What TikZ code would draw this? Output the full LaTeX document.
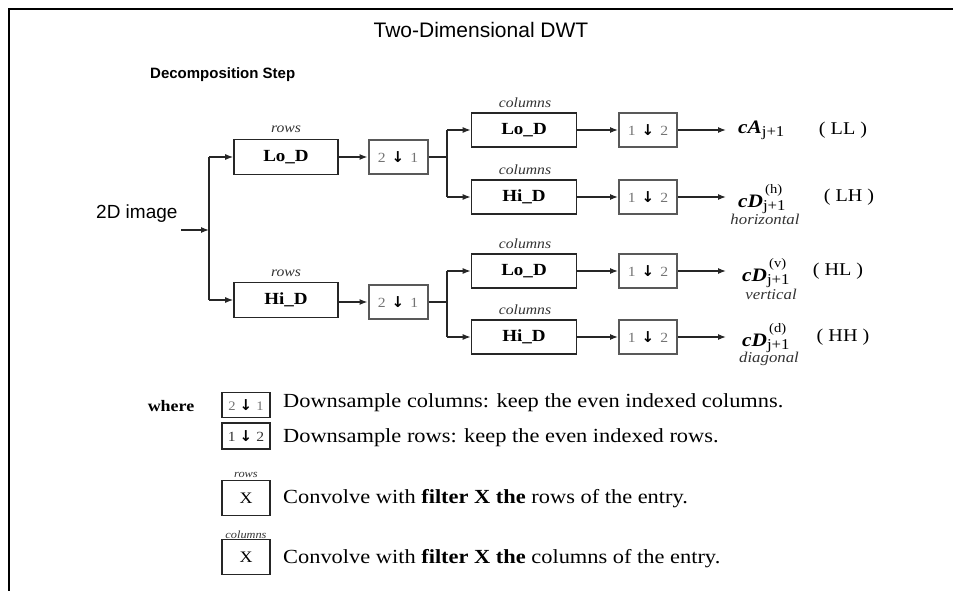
\documentclass[tikz,border=0pt]{standalone}
\usepackage{fontspec}
\setmainfont[FakeStretch=1.12]{Liberation Serif}
\setsansfont{Liberation Sans}
\newfontfamily\dejavu{DejaVu Sans}
\usetikzlibrary{arrows.meta}
\newcommand{\fs}[1]{\fontsize{#1}{#1}\selectfont}
\newcommand{\dn}{{\dejavu\bfseries\color{black}\fs{15}↓}}
\newcommand{\dsl}[2]{#1\hspace{6pt}\dn\hspace{6pt}#2}
\begin{document}
\begin{tikzpicture}[x=1pt,y=-1pt,
  filt/.style={draw=black!85, line width=1.6pt, minimum width=104pt, minimum height=35pt, inner sep=0pt, font=\bfseries\fs{17}},
  dsbox/.style={draw=black!65, line width=2pt, minimum width=59pt, minimum height=34pt, inner sep=0pt, text=black!55, font=\fs{14}},
  lgbox/.style={draw=black!85, line width=1.5pt, minimum width=48pt, inner sep=0pt, font=\fs{16}},
  arr/.style={-{Latex[length=8pt,width=6pt]}, line width=1.3pt, draw=black!85},
  ln/.style={line width=1.3pt, draw=black!85},
  lbl/.style={font=\itshape\fs{14}, text=black!80, inner sep=0pt},
  outn/.style={anchor=west, inner sep=0pt, font=\fs{19}},
  band/.style={inner sep=0pt, font=\fs{18}},
  lgtxt/.style={anchor=west, inner sep=0pt, font=\fs{20}}]
\useasboundingbox (0,0) rectangle (953,591);
% frame
\draw[line width=2.5pt] (953,9) -- (9,9) -- (9,591);
% titles
\node[font=\sffamily\fs{21}, inner sep=0pt] (title) at (481,30) {Two-Dimensional DWT};
\node[font=\sffamily\bfseries\fs{15}, anchor=west, inner sep=0pt] (dstep) at (150,75) {Decomposition Step};
% input
\node[font=\sffamily\fs{19}, anchor=west, inner sep=0pt] (img) at (96,214) {2D image};
\coordinate (in) at (181,230);
\coordinate (j0) at (209,230);
\coordinate (j0t) at (209,157);
\coordinate (j0b) at (209,300);
% row filters
\node[filt] (loR) at (286,157) {Lo\_D};
\node[filt] (hiR) at (286,300) {Hi\_D};
\node[lbl] (rowsT) at (286,129) {rows};
\node[lbl] (rowsB) at (286,273) {rows};
\draw[arr] (in) -- (j0);
\draw[ln] (j0t) -- (j0b);
\draw[arr] (j0t) -- (loR.west);
\draw[arr] (j0b) -- (hiR.west);
% row downsample
\node[dsbox] (dsR1) at (398,157) {\dsl{2}{1}};
\node[dsbox] (dsR2) at (398,302) {\dsl{2}{1}};
\draw[arr] (loR.east |- dsR1) -- (dsR1.west);
\draw[arr] (hiR.east |- dsR2) -- (dsR2.west);
% splits
\coordinate (j1) at (447,157);
\coordinate (j1t) at (447,130);
\coordinate (j1b) at (447,197);
\coordinate (j2) at (447,302);
\coordinate (j2t) at (447,271);
\coordinate (j2b) at (447,337);
\draw[ln] (dsR1.east) -- (j1);
\draw[ln] (dsR2.east) -- (j2);
\draw[ln] (j1t) -- (j1b);
\draw[ln] (j2t) -- (j2b);
% column filters
\node[filt, minimum width=105pt, minimum height=34pt] (c1) at (524,130) {Lo\_D};
\node[filt, minimum width=105pt, minimum height=34pt] (c2) at (524,197) {Hi\_D};
\node[filt, minimum width=105pt, minimum height=34pt] (c3) at (524,271) {Lo\_D};
\node[filt, minimum width=105pt, minimum height=34pt] (c4) at (524,337) {Hi\_D};
\node[lbl] (k1) at (525,103) {columns};
\node[lbl] (k2) at (525,170) {columns};
\node[lbl] (k3) at (525,244) {columns};
\node[lbl] (k4) at (525,310) {columns};
\draw[arr] (j1t) -- (c1.west);
\draw[arr] (j1b) -- (c2.west);
\draw[arr] (j2t) -- (c3.west);
\draw[arr] (j2b) -- (c4.west);
% column downsample
\node[dsbox, minimum width=58pt] (d1) at (648,130) {\dsl{1}{2}};
\node[dsbox, minimum width=58pt] (d2) at (648,197) {\dsl{1}{2}};
\node[dsbox, minimum width=58pt] (d3) at (648,271) {\dsl{1}{2}};
\node[dsbox, minimum width=58pt] (d4) at (648,337) {\dsl{1}{2}};
\draw[arr] (c1.east) -- (d1.west);
\draw[arr] (c2.east) -- (d2.west);
\draw[arr] (c3.east) -- (d3.west);
\draw[arr] (c4.east) -- (d4.west);
% outputs
\coordinate (e1) at (726,130);
\coordinate (e2) at (726,197);
\coordinate (e3) at (726,271);
\coordinate (e4) at (726,337);
\draw[arr] (d1.east) -- (e1);
\draw[arr] (d2.east) -- (e2);
\draw[arr] (d3.east) -- (e3);
\draw[arr] (d4.east) -- (e4);
\node[outn] (o1) at (738,130) {{\bfseries\itshape cA}\raisebox{-0.35ex}{\fs{15}j+1}};
\node[outn] (o2) at (738,199) {{\bfseries\itshape cD}\rlap{\raisebox{1.6ex}{\fs{13}\,(h)}}\raisebox{-0.35ex}{\fs{15}j+1}};
\node[outn] (o3) at (742,273) {{\bfseries\itshape cD}\rlap{\raisebox{1.6ex}{\fs{13}\,(v)}}\raisebox{-0.35ex}{\fs{15}j+1}};
\node[outn] (o4) at (742,338) {{\bfseries\itshape cD}\rlap{\raisebox{1.6ex}{\fs{13}\,(d)}}\raisebox{-0.35ex}{\fs{15}j+1}};
\node[lbl, font=\itshape\fs{15}] (h2) at (765,219) {horizontal};
\node[lbl, font=\itshape\fs{15}] (h3) at (771,294) {vertical};
\node[lbl, font=\itshape\fs{15}] (h4) at (769,359) {diagonal};
\node[band] (b1) at (843,130) {( LL )};
\node[band] (b2) at (849,197) {( LH )};
\node[band] (b3) at (838,271) {( HL )};
\node[band] (b4) at (843,337) {( HH )};
% legend
\node[font=\bfseries\fs{16}, inner sep=0pt] (where) at (171,406) {where};
\node[dsbox, draw=black!85, line width=1.5pt, minimum width=48pt, minimum height=25pt, font=\fs{13}] (L1) at (246,405) {2\hspace{4pt}\dn\hspace{4pt}1};
\node[dsbox, draw=black!85, line width=1.5pt, minimum width=48pt, minimum height=26pt, text=black!80, font=\fs{14}] (L2) at (246,436) {1\hspace{4pt}\dn\hspace{4pt}2};
\node[lgbox, minimum height=35pt] (L3) at (246,498) {X};
\node[lgbox, minimum height=35pt] (L4) at (246,557) {X};
\node[lbl, font=\itshape\fs{11}] (L3c) at (246,475) {rows};
\node[lbl, font=\itshape\fs{11}] (L4c) at (246,535) {columns};
\node[lgtxt] (T1) at (283,403) {Downsample columns: keep the even indexed columns.};
\node[lgtxt] (T2) at (283,438) {Downsample rows: keep the even indexed rows.};
\node[lgtxt] (T3) at (283,499) {Convolve with \textbf{filter X the} rows of the entry.};
\node[lgtxt] (T4) at (283,559) {Convolve with \textbf{filter X the} columns of the entry.};
\end{tikzpicture}
\end{document}
